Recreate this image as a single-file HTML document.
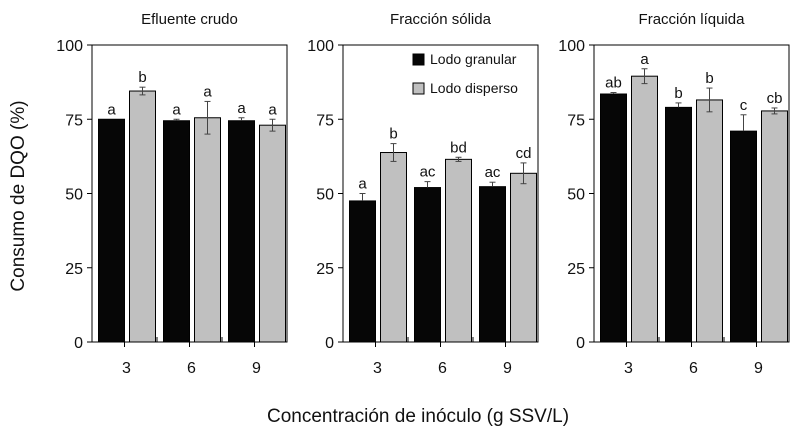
<!DOCTYPE html>
<html><head><meta charset="utf-8">
<style>
html,body{margin:0;padding:0;background:#fff;}
svg{display:block;font-family:"Liberation Sans",sans-serif;}
</style></head>
<body>
<svg id="chart" width="800" height="436" viewBox="0 0 800 436" xmlns="http://www.w3.org/2000/svg">
<text x="0" y="0" transform="translate(24,196) rotate(-90)" text-anchor="middle" font-size="19" fill="#111">Consumo de DQO (%)</text>
<text x="418" y="422" text-anchor="middle" font-size="19" fill="#111">Concentración de inóculo (g SSV/L)</text>
<g>
<rect x="413" y="54" width="11" height="11" fill="#060606" stroke="#000"/>
<text x="430" y="64" font-size="14" fill="#111">Lodo granular</text>
<rect x="413" y="83" width="11" height="11" fill="#c0c0c0" stroke="#000"/>
<text x="430" y="93" font-size="14" fill="#111">Lodo disperso</text>
</g>
</svg>
<script>
const categories = ["3","6","9"];
const panelTitles = ["Efluente crudo","Fracción sólida","Fracción líquida"];
const yTicks = [0,25,50,75,100];
const granular = [[75,74.5,74.5],[47.5,52,52.3],[83.5,79,71]];
const granularErr = [[0,0.5,1],[2.5,2,1.5],[0.5,1.5,5.5]];
const disperso = [[84.5,75.5,73],[63.8,61.5,56.8],[89.5,81.5,77.8]];
const dispersoErr = [[1.3,5.5,2],[3,0.7,3.5],[2.5,4,1]];
const granularLetters = [["a","a","a"],["a","ac","ac"],["ab","b","c"]];
const dispersoLetters = [["b","a","a"],["b","bd","cd"],["a","b","cb"]];

const svg = document.getElementById('chart');
const NS = "http://www.w3.org/2000/svg";
const panelLeft = [92,343,594];
const panelW = 195, plotTop = 45, plotBottom = 342;
function y(v){ return plotBottom - (v/100)*(plotBottom-plotTop); }
function mk(tag, attrs, parent){
  const e = document.createElementNS(NS, tag);
  for (const k in attrs) e.setAttribute(k, attrs[k]);
  (parent||svg).appendChild(e);
  return e;
}
function errBar(g, cx, v, e, upOnly){
  if (e <= 0) return;
  const lo = upOnly ? v : v - e;
  mk('line',{x1:cx,x2:cx,y1:y(v+e),y2:y(lo),stroke:'#444','stroke-width':1},g);
  mk('line',{x1:cx-3,x2:cx+3,y1:y(v+e),y2:y(v+e),stroke:'#444','stroke-width':1},g);
  if(!upOnly) mk('line',{x1:cx-3,x2:cx+3,y1:y(v-e),y2:y(v-e),stroke:'#444','stroke-width':1},g);
}
for (let p=0;p<3;p++){
  const L = panelLeft[p];
  const g = mk('g',{});
  
  
  const t = mk('text',{x:L+panelW/2,y:24,'text-anchor':'middle','font-size':15,fill:'#111'},g);
  
  
  t.textContent = panelTitles[p];
  const gw = panelW/categories.length;
  for (let i=0;i<categories.length;i++){
    const gx = L + gw*i;
    const cx = gx + gw/2;
    const b1 = mk('rect',{x:cx-26,y:y(granular[p][i]),width:26,height:plotBottom-y(granular[p][i]),fill:'#060606',stroke:'#000','stroke-width':1},g);
    
    
    errBar(g, cx-13, granular[p][i], granularErr[p][i], true);
    const b2 = mk('rect',{x:cx+5,y:y(disperso[p][i]),width:26,height:plotBottom-y(disperso[p][i]),fill:'#c0c0c0',stroke:'#000','stroke-width':1},g);
    
    
    errBar(g, cx+18, disperso[p][i], dispersoErr[p][i], false);
    const l1 = mk('text',{x:cx-13,y:y(granular[p][i]+granularErr[p][i])-5,'text-anchor':'middle','font-size':15,fill:'#111'},g);
    
    
    l1.textContent = granularLetters[p][i];
    const l2 = mk('text',{x:cx+18,y:y(disperso[p][i]+dispersoErr[p][i])-5,'text-anchor':'middle','font-size':15,fill:'#111'},g);
    
    
    l2.textContent = dispersoLetters[p][i];
    mk('line',{x1:cx,x2:cx,y1:plotBottom,y2:plotBottom+5,stroke:'#000'},g);
    if (i>0) mk('line',{x1:gx,x2:gx,y1:plotBottom,y2:plotBottom-5,stroke:'#000'},g);
    const xl = mk('text',{x:cx+2,y:373,'text-anchor':'middle','font-size':16,fill:'#111'},g);
    
    
    xl.textContent = categories[i];
  }
  mk('rect',{x:L,y:plotTop,width:panelW,height:plotBottom-plotTop,fill:'none',stroke:'#000','stroke-width':1},g);
  for (const v of yTicks){
    mk('line',{x1:L-5,x2:L,y1:y(v),y2:y(v),stroke:'#000'},g);
    const yl = mk('text',{x:L-9,y:y(v)+6,'text-anchor':'end','font-size':16,fill:'#111'},g);
    
    
    yl.textContent = v;
  }
}
</script>
</body></html>
